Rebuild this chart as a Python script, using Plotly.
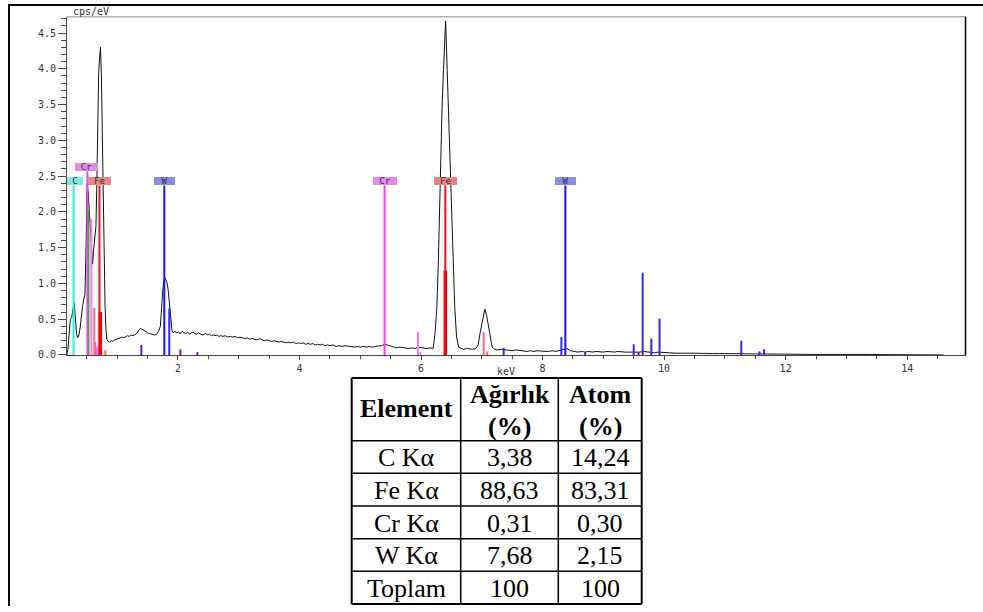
import plotly.graph_objects as go

# ---------------- EDS spectrum (keV vs cps/eV) ----------------
spec_kev = [
    0.17, 0.19, 0.21, 0.23, 0.25, 0.27, 0.29, 0.31, 0.33, 0.35, 0.37, 0.39, 0.41, 0.43, 0.45, 0.47,
    0.49, 0.505, 0.52, 0.54, 0.56, 0.58, 0.595, 0.61, 0.63, 0.65, 0.665, 0.68, 0.695, 0.71, 0.725,
    0.74, 0.755, 0.77, 0.785, 0.80, 0.815, 0.83, 0.85, 0.87, 0.90, 0.93, 0.96, 0.99, 1.02, 1.05,
    1.08, 1.11, 1.14, 1.17, 1.20, 1.23, 1.26, 1.29, 1.32, 1.35, 1.38, 1.41, 1.44, 1.47, 1.50, 1.53,
    1.56, 1.59, 1.62, 1.65, 1.68, 1.71, 1.73, 1.75, 1.77, 1.785, 1.80, 1.82, 1.84, 1.86, 1.88, 1.90,
    1.92, 1.95, 1.98, 2.01, 2.04, 2.07, 2.10, 2.13, 2.16, 2.19, 2.22, 2.25, 2.28, 2.31, 2.34, 2.37,
    2.40, 2.43, 2.46, 2.49, 2.52, 2.55, 2.58, 2.61, 2.64, 2.67, 2.70, 2.74, 2.78, 2.82, 2.86, 2.90,
    2.94, 2.98, 3.02, 3.06, 3.10, 3.14, 3.18, 3.22, 3.26, 3.30, 3.34, 3.38, 3.42, 3.46, 3.50, 3.54,
    3.58, 3.62, 3.66, 3.70, 3.74, 3.78, 3.82, 3.86, 3.90, 3.94, 3.98, 4.02, 4.06, 4.10, 4.14, 4.18,
    4.22, 4.26, 4.30, 4.34, 4.38, 4.42, 4.46, 4.50, 4.55, 4.60, 4.65, 4.70, 4.75, 4.80, 4.85, 4.90,
    4.95, 5.00, 5.05, 5.10, 5.15, 5.20, 5.25, 5.30, 5.35, 5.40, 5.45, 5.50, 5.55, 5.60, 5.65, 5.70,
    5.75, 5.80, 5.85, 5.90, 5.95, 6.00, 6.05, 6.10, 6.15, 6.20, 6.23, 6.26, 6.285, 6.30, 6.32, 6.345,
    6.37, 6.39, 6.405, 6.43, 6.455, 6.475, 6.50, 6.525, 6.555, 6.585, 6.62, 6.66, 6.70, 6.75, 6.80,
    6.85, 6.90, 6.94, 6.97, 7.00, 7.03, 7.05, 7.08, 7.11, 7.14, 7.17, 7.21, 7.26, 7.32, 7.38, 7.44,
    7.50, 7.56, 7.62, 7.68, 7.74, 7.80, 7.86, 7.92, 7.98, 8.04, 8.10, 8.16, 8.22, 8.28, 8.34, 8.40,
    8.46, 8.52, 8.58, 8.64, 8.70, 8.76, 8.82, 8.88, 8.94, 9.00, 9.06, 9.12, 9.18, 9.24, 9.30, 9.36,
    9.42, 9.48, 9.54, 9.60, 9.66, 9.72, 9.78, 9.84, 9.90, 9.96, 10.02, 10.10, 10.20, 10.30, 10.40,
    10.50, 10.60, 10.70, 10.80, 10.90, 11.00, 11.10, 11.20, 11.30, 11.40, 11.50, 11.60, 11.70, 11.80,
    11.90, 12.0, 12.2, 12.4, 12.6, 12.8, 13.0, 13.2, 13.4, 13.6, 13.8, 14.0, 14.2, 14.4, 14.6,
]
spec_cps = [
    0.00, 0.08, 0.30, 0.50, 0.52, 0.62, 0.73, 0.55, 0.30, 0.24, 0.28, 0.38, 0.55, 0.68, 0.78, 0.85,
    1.60, 2.38, 2.30, 2.02, 1.75, 1.40, 1.27, 1.45, 1.60, 1.80, 2.40, 3.45, 3.95, 4.15, 4.30,
    3.90, 2.90, 1.95, 1.30, 0.70, 0.35, 0.22, 0.19, 0.18, 0.20, 0.19, 0.21, 0.22, 0.22, 0.24,
    0.25, 0.24, 0.26, 0.27, 0.26, 0.28, 0.27, 0.29, 0.30, 0.34, 0.37, 0.36, 0.34, 0.33, 0.31, 0.30,
    0.29, 0.29, 0.28, 0.29, 0.33, 0.40, 0.68, 0.90, 1.05, 1.08, 1.05, 1.01, 0.90, 0.68, 0.45, 0.35,
    0.31, 0.33, 0.31, 0.32, 0.30, 0.33, 0.31, 0.30, 0.32, 0.29, 0.31, 0.32, 0.30, 0.29, 0.31, 0.30,
    0.28, 0.29, 0.30, 0.28, 0.29, 0.27, 0.28, 0.27, 0.28, 0.26, 0.27, 0.26, 0.27, 0.25, 0.26, 0.25,
    0.26, 0.24, 0.25, 0.24, 0.23, 0.24, 0.22, 0.23, 0.22, 0.21, 0.23, 0.21, 0.20, 0.21, 0.20, 0.19,
    0.20, 0.19, 0.18, 0.19, 0.18, 0.17, 0.18, 0.17, 0.18, 0.16, 0.17, 0.16, 0.17, 0.15, 0.16, 0.15,
    0.16, 0.14, 0.15, 0.14, 0.15, 0.13, 0.14, 0.13, 0.14, 0.12, 0.13, 0.12, 0.13, 0.12, 0.12, 0.11,
    0.12, 0.11, 0.12, 0.11, 0.12, 0.11, 0.12, 0.12, 0.13, 0.15, 0.14, 0.12, 0.11, 0.10, 0.11, 0.10,
    0.10, 0.09, 0.10, 0.09, 0.11, 0.10, 0.09, 0.09, 0.10, 0.09, 0.30, 0.66, 1.30, 1.87, 2.51, 3.43,
    3.99, 4.59, 4.67, 3.99, 3.30, 2.60, 1.87, 1.18, 0.66, 0.25, 0.11, 0.09, 0.08, 0.09, 0.08,
    0.08, 0.09, 0.14, 0.30, 0.45, 0.58, 0.64, 0.55, 0.40, 0.22, 0.11, 0.08, 0.07, 0.08, 0.07, 0.07,
    0.06, 0.07, 0.06, 0.06, 0.05, 0.06, 0.05, 0.06, 0.05, 0.05, 0.05, 0.06, 0.05, 0.06, 0.08, 0.09,
    0.06, 0.05, 0.04, 0.05, 0.04, 0.05, 0.04, 0.05, 0.04, 0.04, 0.05, 0.04, 0.04, 0.05, 0.04, 0.04,
    0.04, 0.04, 0.03, 0.04, 0.05, 0.04, 0.04, 0.03, 0.04, 0.04, 0.03, 0.03, 0.025, 0.03, 0.025,
    0.025, 0.02, 0.025, 0.02, 0.02, 0.02, 0.02, 0.015, 0.02, 0.015, 0.015, 0.02, 0.015, 0.01,
    0.01, 0.01, 0.01, 0.008, 0.01, 0.008, 0.008, 0.006, 0.008, 0.005, 0.005, 0.004, 0.004, 0.003, 0.0,
]

# ---------------- characteristic line markers (keV, height) ----------------
c_lines_kev = [0.282]
c_lines_h = [2.37]
o_lines_kev = [0.527]
o_lines_h = [2.03]
cr_main_kev = [0.51, 5.40]
cr_main_h = [2.57, 2.37]
cr_minor_kev = [0.574, 0.667, 5.95, 5.99]
cr_minor_h = [1.90, 0.12, 0.32, 0.04]
fe_main_kev = [0.708, 6.40]
fe_main_h = [2.37, 2.37]
fe_strong_kev = [0.722, 6.40]
fe_strong_h = [0.60, 1.18]
fe_minor_kev = [0.623, 0.64, 0.804, 7.03, 7.09]
fe_minor_h = [0.66, 0.18, 0.07, 0.32, 0.05]
w_main_kev = [1.775, 8.375]
w_main_h = [2.37, 2.37]
w_minor_kev = [1.397, 1.857, 2.04, 2.32, 7.36, 8.31, 8.70, 9.50, 9.58, 9.647, 9.79, 9.925,
               11.27, 11.57, 11.645]
w_minor_h = [0.14, 0.65, 0.08, 0.04, 0.10, 0.25, 0.04, 0.15, 0.04, 1.15, 0.23, 0.51,
             0.20, 0.05, 0.08]

# element tags above the marker lines: (text, keV, bottom, box width px, colour)
tag_text = ["C", "Cr", "Fe", "W", "Cr", "Fe", "W"]
tag_kev = [0.31, 0.496, 0.708, 1.78, 5.40, 6.40, 8.38]
tag_base = [2.37, 2.57, 2.37, 2.37, 2.37, 2.37, 2.37]
tag_width = [16, 23, 23, 21, 24, 23, 21]
tag_color = ["#86e6e6", "#e48ae8", "#e88585", "#8c8ceb", "#e48ae8", "#e88585", "#8c8ceb"]

# ---------------- quantification table ----------------
tbl_header = ["Element", "Ağırlık", "Atom"]
tbl_header_unit = ["", "(%)", "(%)"]
tbl_element = ["C Kα", "Fe Kα", "Cr Kα", "W Kα", "Toplam"]
tbl_weight = ["3,38", "88,63", "0,31", "7,68", "100"]
tbl_atom = ["14,24", "83,31", "0,30", "2,15", "100"]

W, H = 983, 612


def fx(px):
    return px / W


def fy(py):
    return 1 - py / H


def stems(xs, hs):
    x, y = [], []
    for a, b in zip(xs, hs):
        x += [a, a, None]
        y += [0, b, None]
    return x, y


fig = go.Figure()

fig.add_trace(go.Scatter(x=spec_kev, y=spec_cps, mode="lines",
                         line=dict(color="#111111", width=1), hoverinfo="skip"))

marker_groups = [
    (c_lines_kev, c_lines_h, "#3fe0ee", 2),
    (o_lines_kev, o_lines_h, "#10c010", 2),
    (cr_main_kev, cr_main_h, "#f040f0", 2),
    (cr_minor_kev, cr_minor_h, "#f77cf7", 2),
    (fe_minor_kev, fe_minor_h, "#ff6a6a", 2),
    (fe_main_kev, fe_main_h, "#ff1010", 2),
    (fe_strong_kev, fe_strong_h, "#ff0000", 3.5),
    (w_minor_kev, w_minor_h, "#2a2aff", 2),
    (w_main_kev, w_main_h, "#1515ff", 2),
]
for xs, hs, col, lw in marker_groups:
    sx, sy = stems(xs, hs)
    fig.add_trace(go.Scatter(x=sx, y=sy, mode="lines", line=dict(color=col, width=lw),
                             hoverinfo="skip"))

annotations = []
for t, k, b, w, c in zip(tag_text, tag_kev, tag_base, tag_width, tag_color):
    annotations.append(dict(x=k, y=b, xref="x", yref="y", text=t, showarrow=False,
                            xanchor="center", yanchor="bottom", width=w, height=8,
                            bgcolor=c, borderpad=0, borderwidth=0,
                            font=dict(family="DejaVu Sans Mono", size=9, color="#333333")))

small_font = dict(family="DejaVu Sans Mono", size=10, color="#333333")
annotations.append(dict(x=fx(91), y=fy(12), xref="paper", yref="paper", text="cps/eV",
                        showarrow=False, xanchor="center", yanchor="middle", font=small_font))
annotations.append(dict(x=fx(506), y=fy(375), xref="paper", yref="paper", text="keV",
                        showarrow=False, xanchor="center", yanchor="middle", font=small_font))

# table geometry (pixels)
col_edges = [351.7, 460.7, 558.3, 641.7]
row_edges = [381.7, 445, 478, 511, 544, 577, 610]
serif = "Liberation Serif"
tsize = 26
col_centers = [(col_edges[i] + col_edges[i + 1]) / 2 for i in range(3)]

for i, (h, u) in enumerate(zip(tbl_header, tbl_header_unit)):
    if u:
        annotations.append(dict(x=fx(col_centers[i]), y=fy(398), xref="paper", yref="paper",
                                text="<b>%s</b>" % h, showarrow=False, xanchor="center",
                                yanchor="middle", font=dict(family=serif, size=tsize, color="black")))
        annotations.append(dict(x=fx(col_centers[i]), y=fy(431), xref="paper", yref="paper",
                                text="<b>%s</b>" % u, showarrow=False, xanchor="center",
                                yanchor="middle", font=dict(family=serif, size=tsize, color="black")))
    else:
        annotations.append(dict(x=fx(col_centers[i]), y=fy(413), xref="paper", yref="paper",
                                text="<b>%s</b>" % h, showarrow=False, xanchor="center",
                                yanchor="middle", font=dict(family=serif, size=tsize, color="black")))

for r, row in enumerate(zip(tbl_element, tbl_weight, tbl_atom)):
    cy = (row_edges[r + 1] + row_edges[r + 2]) / 2 + 1
    for i, txt in enumerate(row):
        annotations.append(dict(x=fx(col_centers[i]), y=fy(cy), xref="paper", yref="paper",
                                text=txt, showarrow=False, xanchor="center", yanchor="middle",
                                font=dict(family=serif, size=tsize, color="black")))

shapes = []
# outer frame
shapes.append(dict(type="line", xref="paper", yref="paper", x0=fx(9), x1=fx(9), y0=fy(4), y1=fy(612),
                   line=dict(color="black", width=2)))
shapes.append(dict(type="line", xref="paper", yref="paper", x0=fx(8), x1=fx(983), y0=fy(5), y1=fy(5),
                   line=dict(color="black", width=2)))
# plot box: grey top edge, black right edge
shapes.append(dict(type="line", xref="x domain", yref="y domain", x0=0, x1=1, y0=1, y1=1,
                   line=dict(color="#8a8a8a", width=1)))
shapes.append(dict(type="line", xref="x domain", yref="y domain", x0=1, x1=1, y0=0, y1=1,
                   line=dict(color="black", width=1.5)))
# table grid
for i, xe in enumerate(col_edges):
    lw = 2 if i in (0, len(col_edges) - 1) else 1.5
    shapes.append(dict(type="line", xref="paper", yref="paper", x0=fx(xe), x1=fx(xe),
                       y0=fy(row_edges[0]), y1=fy(row_edges[-1]), line=dict(color="black", width=lw)))
for i, ye in enumerate(row_edges):
    lw = 2 if i in (0, len(row_edges) - 1) else 1.5
    shapes.append(dict(type="line", xref="paper", yref="paper", x0=fx(col_edges[0]), x1=fx(col_edges[-1]),
                       y0=fy(ye), y1=fy(ye), line=dict(color="black", width=lw)))

tick_font = dict(family="DejaVu Sans Mono", size=10, color="#333333")
fig.update_layout(
    width=W, height=H, margin=dict(l=0, r=0, t=0, b=0),
    paper_bgcolor="white", plot_bgcolor="white", showlegend=False,
    xaxis=dict(domain=[fx(67), fx(965.5)], range=[0.174, 14.96], showgrid=False, zeroline=False,
               showline=True, linecolor="#444444", linewidth=1, ticks="outside", ticklen=4,
               tickcolor="#444444", tick0=0, dtick=2, tickfont=tick_font,
               minor=dict(tick0=0, dtick=0.5, ticks="outside", ticklen=3, tickcolor="#444444")),
    yaxis=dict(domain=[fy(358.5), fy(17)], range=[0, 4.727], showgrid=False, zeroline=False,
               showline=True, linecolor="#444444", linewidth=1, ticks="outside", ticklen=8,
               tickcolor="#444444", tick0=0, dtick=0.5, tickformat=".1f", tickfont=tick_font,
               minor=dict(tick0=0, dtick=0.1, ticks="outside", ticklen=5, tickcolor="#444444")),
    annotations=annotations, shapes=shapes,
)

fig.write_html("out.html")
